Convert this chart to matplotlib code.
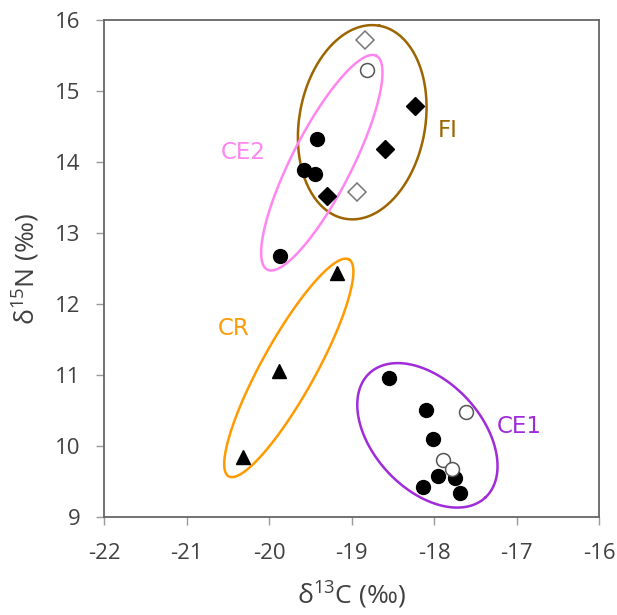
import numpy as np
import matplotlib
matplotlib.use("Agg")
import matplotlib.pyplot as plt

plt.rcParams["axes.unicode_minus"] = False
plt.rcParams["mathtext.fontset"] = "custom"
plt.rcParams["mathtext.rm"] = "Open Sans"

# FI group (diamonds)
fi_x_filled = [-18.23, -18.59, -19.30]
fi_y_filled = [14.79, 14.18, 13.52]
fi_x_open = [-18.84, -18.93]
fi_y_open = [15.72, 13.58]

# CE2 group (circles)
ce2_x_filled = [-19.42, -19.58, -19.44, -19.87]
ce2_y_filled = [14.32, 13.89, 13.83, 12.68]
ce2_x_open = [-18.81]
ce2_y_open = [15.30]

# CR group (triangles)
cr_x = [-19.18, -19.88, -20.32]
cr_y = [12.44, 11.05, 9.84]

# CE1 group (circles)
ce1_x_filled = [-18.55, -18.10, -18.01, -17.95, -17.75, -18.13, -17.68]
ce1_y_filled = [10.96, 10.51, 10.10, 9.58, 9.55, 9.42, 9.34]
ce1_x_open = [-17.61, -17.89, -17.78]
ce1_y_open = [10.48, 9.80, 9.68]

# group ellipses: name, centre (data), semi-axes (px), angle (deg), colour
groups = ["FI", "CE2", "CR", "CE1"]
ell_cx = [-18.87, -19.36, -19.76, -18.08]
ell_cy = [14.56, 13.99, 11.10, 10.15]
ell_a = [98, 120, 124, 85]
ell_b = [63, 30, 27, 54]
ell_ang = [80, 63, 61, -47]
colors = ["#9C6500", "#FF85F0", "#FF9A00", "#A02BD9"]
label_x = [-17.96, -20.59, -20.62, -17.24]
label_y = [14.45, 14.14, 11.66, 10.27]

W, H = 617, 615
fig = plt.figure(figsize=(W / 100, H / 100), dpi=100)
left, right, top, bottom = 104, 599, 20, 517
ax = fig.add_axes([left / W, 1 - bottom / H, (right - left) / W, (bottom - top) / H])
ax.set_xlim(-22, -16)
ax.set_ylim(9, 16)

# px per data unit
sx = (right - left) / 6.0
sy = (bottom - top) / 7.0

t = np.linspace(0, 2 * np.pi, 300)
for i, g in enumerate(groups):
    th = np.radians(ell_ang[i])
    px = ell_a[i] * np.cos(t) * np.cos(th) - ell_b[i] * np.sin(t) * np.sin(th)
    py = ell_a[i] * np.cos(t) * np.sin(th) + ell_b[i] * np.sin(t) * np.cos(th)
    ax.plot(ell_cx[i] + px / sx, ell_cy[i] + py / sy, color=colors[i], lw=1.8, zorder=1)
    ax.text(label_x[i], label_y[i], g, color=colors[i], fontsize=16.5,
            ha="left", va="center")

ms = 10
ax.plot(fi_x_filled, fi_y_filled, "D", color="black", ms=9, ls="none", zorder=3)
ax.plot(fi_x_open, fi_y_open, "D", mfc="white", mec="#777777", mew=1.1, ms=9, ls="none", zorder=3)
ax.plot(ce2_x_filled, ce2_y_filled, "o", color="black", ms=ms, ls="none", zorder=3)
ax.plot(ce2_x_open, ce2_y_open, "o", mfc="white", mec="#555555", mew=1.1, ms=ms, ls="none", zorder=3)
ax.plot(cr_x, cr_y, "^", color="black", ms=ms, ls="none", zorder=3)
ax.plot(ce1_x_filled, ce1_y_filled, "o", color="black", ms=ms, ls="none", zorder=3)
ax.plot(ce1_x_open, ce1_y_open, "o", mfc="white", mec="#555555", mew=1.1, ms=ms, ls="none", zorder=4)

for s in ax.spines.values():
    s.set_color("#666666")
    s.set_linewidth(1.3)
ax.set_xticks(range(-22, -15))
ax.set_yticks(range(9, 17))
ax.tick_params(direction="out", length=6, width=1, color="#999999",
               labelsize=16, labelcolor="#404040")
ax.tick_params(axis="x", pad=13)
ax.tick_params(axis="y", pad=11)
for lab in ax.get_xticklabels() + ax.get_yticklabels():
    lab.set_family("Open Sans")
ax.set_xlabel(r"δ$^{\mathregular{13}}$C (‰)", fontsize=19, color="#404040",
              family="Open Sans", labelpad=10)
ax.set_ylabel(r"δ$^{\mathregular{15}}$N (‰)", fontsize=19, color="#404040",
              family="Open Sans", labelpad=10)

fig.savefig("out.png", dpi=100)
